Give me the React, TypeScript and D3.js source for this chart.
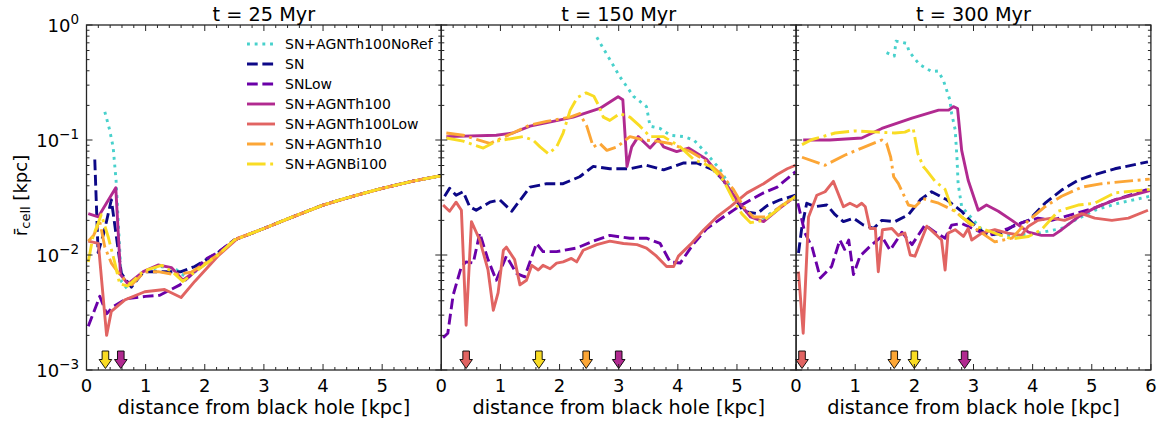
import React from "react";
import * as d3 from "d3";

type P = [number, number];

const SERIES = ["SN+AGNTh100NoRef", "SN", "SNLow", "SN+AGNTh100", "SN+AGNTh100Low", "SN+AGNTh10", "SN+AGNBi100"];
const COLORS = ["#48d1cc", "#0d0887", "#6a00a8", "#b12a90", "#e16462", "#fca636", "#f9dc24"];
const STYLES = ["dotted", "dashed", "dashed", "solid", "solid", "dashdot", "dashdot"];
const TITLES = ["t = 25 Myr", "t = 150 Myr", "t = 300 Myr"];
const X_TICKS = [0, 1, 2, 3, 4, 5, 6];
const Y_TICK_EXP = [0, -1, -2, -3];

// ---------- t = 25 Myr ----------
const tail25: P[] = [[2.5, 0.0135], [3, 0.017], [3.5, 0.0216], [4, 0.0272], [4.5, 0.0324], [5, 0.038], [5.5, 0.0437], [6, 0.049]];
const noRef25: P[] = [[0.31, 0.176], [0.39, 0.123], [0.45, 0.087], [0.5, 0.0447], [0.59, 0.00589], [0.7, 0.00501], [0.96, 0.00708], [1.25, 0.00794], [1.5, 0.00759], [1.7, 0.00631], [1.85, 0.00724], [2.22, 0.0102]];
const sn25: P[] = [[0.14, 0.0676], [0.196, 0.0105], [0.3, 0.016], [0.42, 0.0302], [0.59, 0.00692], [0.76, 0.00525], [0.96, 0.00716], [1.29, 0.00716], [1.6, 0.00716], [1.83, 0.00794], [2.22, 0.0105]];
const snLow25: P[] = [[0.03, 0.0024], [0.225, 0.00437], [0.34, 0.00309], [0.45, 0.00355], [0.68, 0.00417], [1.0, 0.00437], [1.24, 0.00447], [1.58, 0.0055], [1.8, 0.00692], [2.0, 0.00912], [2.22, 0.0105]];
const th100_25: P[] = [[0.03, 0.0229], [0.2, 0.0215], [0.495, 0.0385], [0.575, 0.00676], [0.7, 0.00562], [0.96, 0.00716], [1.21, 0.00818], [1.44, 0.00776], [1.63, 0.00603], [1.83, 0.00716], [2.22, 0.01]];
const low25: P[] = [[0.03, 0.0132], [0.2, 0.0126], [0.34, 0.002], [0.42, 0.00324], [0.65, 0.00407], [0.985, 0.00479], [1.32, 0.00501], [1.6, 0.00427], [1.83, 0.00589], [2.22, 0.00977], [2.56, 0.014]];
const th10_25: P[] = [[0.03, 0.0132], [0.12, 0.0148], [0.225, 0.0195], [0.31, 0.0117], [0.42, 0.00851], [0.59, 0.00646], [0.76, 0.0055], [0.985, 0.00716], [1.21, 0.00716], [1.49, 0.00676], [1.77, 0.00708], [2.22, 0.01]];
const bi100_25: P[] = [[0.03, 0.00871], [0.11, 0.0145], [0.25, 0.0224], [0.365, 0.0145], [0.48, 0.00851], [0.56, 0.00562], [0.7, 0.00537], [0.96, 0.00724], [1.27, 0.00813], [1.46, 0.00708], [1.63, 0.00589], [1.83, 0.00708], [2.22, 0.01]];

// ---------- t = 150 Myr ----------
const noRef150: P[] = [[2.63, 0.782], [2.85, 0.501], [3.02, 0.355], [3.25, 0.24], [3.47, 0.195], [3.53, 0.132], [3.7, 0.126], [3.87, 0.11], [4.1, 0.107], [4.27, 0.1], [4.49, 0.0759], [4.72, 0.055], [4.94, 0.0347], [5.17, 0.0229], [5.4, 0.02], [5.73, 0.0263], [5.99, 0.0331]];
const sn150: P[] = [[0.056, 0.0324], [0.14, 0.038], [0.25, 0.0331], [0.37, 0.0355], [0.48, 0.0263], [0.59, 0.0245], [0.82, 0.0288], [0.99, 0.0302], [1.19, 0.024], [1.5, 0.0389], [1.78, 0.0417], [2.06, 0.0417], [2.34, 0.0479], [2.57, 0.0589], [2.85, 0.0562], [3.19, 0.0562], [3.47, 0.0603], [3.76, 0.055], [4.1, 0.0631], [4.32, 0.0631], [4.6, 0.055], [4.77, 0.0447], [4.94, 0.0324], [5.11, 0.024], [5.34, 0.0229], [5.51, 0.0269], [5.73, 0.0302], [5.99, 0.0331]];
const snLow150: P[] = [[0.03, 0.00191], [0.11, 0.00209], [0.2, 0.00447], [0.34, 0.00794], [0.42, 0.00871], [0.54, 0.00851], [0.65, 0.0155], [0.79, 0.00912], [0.93, 0.00603], [1.1, 0.00977], [1.27, 0.00692], [1.41, 0.00646], [1.61, 0.0126], [1.72, 0.0107], [1.95, 0.0107], [2.29, 0.0115], [2.57, 0.0132], [2.85, 0.0148], [3.19, 0.014], [3.47, 0.014], [3.7, 0.0126], [3.87, 0.00871], [4.04, 0.00851], [4.27, 0.0126], [4.49, 0.017], [4.77, 0.0214], [5.0, 0.0257], [5.23, 0.0302], [5.45, 0.0347], [5.68, 0.0389], [5.99, 0.0531]];
const th100_150: P[] = [[0.085, 0.107], [0.93, 0.11], [1.21, 0.115], [1.5, 0.132], [1.89, 0.145], [2.23, 0.158], [2.68, 0.188], [2.99, 0.238], [3.07, 0.224], [3.14, 0.0589], [3.22, 0.0871], [3.33, 0.107], [3.53, 0.0851], [3.67, 0.102], [3.76, 0.0871], [3.98, 0.0794], [4.18, 0.0851], [4.49, 0.0676], [4.77, 0.0447], [5.0, 0.0302], [5.23, 0.0214], [5.45, 0.0195], [5.73, 0.0257], [5.99, 0.0324]];
const low150: P[] = [[0.03, 0.0272], [0.14, 0.024], [0.25, 0.0288], [0.34, 0.0245], [0.42, 0.00245], [0.51, 0.0195], [0.65, 0.0135], [0.79, 0.00741], [0.88, 0.00331], [0.96, 0.00468], [1.05, 0.011], [1.1, 0.0117], [1.24, 0.00912], [1.33, 0.0055], [1.44, 0.00603], [1.53, 0.00813], [1.64, 0.00741], [1.72, 0.00813], [1.84, 0.00759], [1.95, 0.00851], [2.06, 0.00871], [2.2, 0.00933], [2.29, 0.00871], [2.4, 0.011], [2.63, 0.0123], [2.85, 0.0132], [3.08, 0.0126], [3.31, 0.0123], [3.47, 0.0115], [3.64, 0.00977], [3.81, 0.00794], [3.93, 0.00794], [4.01, 0.00977], [4.21, 0.0123], [4.44, 0.0166], [4.66, 0.0214], [4.89, 0.0263], [5.17, 0.0347], [5.45, 0.0417], [5.68, 0.0501], [5.85, 0.0562], [5.99, 0.0603]];
const th10_150: P[] = [[0.085, 0.115], [0.37, 0.11], [0.82, 0.0933], [1.21, 0.115], [1.5, 0.135], [1.78, 0.145], [2.18, 0.158], [2.34, 0.17], [2.46, 0.132], [2.57, 0.0871], [2.68, 0.0933], [2.8, 0.0813], [2.97, 0.0871], [3.19, 0.107], [3.42, 0.1], [3.64, 0.0977], [3.87, 0.0933], [4.21, 0.0794], [4.44, 0.0676], [4.72, 0.0513], [4.94, 0.0372], [5.11, 0.0263], [5.28, 0.0214], [5.51, 0.0214], [5.73, 0.0263], [5.99, 0.0324]];
const bi100_150: P[] = [[0.085, 0.104], [0.37, 0.0977], [0.71, 0.0851], [0.93, 0.0977], [1.38, 0.107], [1.55, 0.1], [1.67, 0.0871], [1.81, 0.0759], [1.95, 0.0871], [2.06, 0.115], [2.18, 0.182], [2.3, 0.234], [2.45, 0.257], [2.58, 0.24], [2.66, 0.2], [2.74, 0.158], [2.85, 0.148], [3.02, 0.17], [3.19, 0.158], [3.36, 0.132], [3.53, 0.107], [3.76, 0.107], [4.04, 0.0871], [4.27, 0.0676], [4.55, 0.0589], [4.77, 0.0447], [4.94, 0.0302], [5.08, 0.0229], [5.23, 0.0191], [5.45, 0.02], [5.73, 0.0257], [5.99, 0.0324]];

// ---------- t = 300 Myr ----------
const noRef300: P[] = [[1.53, 0.575], [1.66, 0.537], [1.69, 0.724], [1.87, 0.692], [1.91, 0.589], [2.08, 0.457], [2.29, 0.394], [2.4, 0.398], [2.49, 0.331], [2.6, 0.224], [2.63, 0.17], [2.69, 0.123], [2.72, 0.0708], [2.74, 0.0417], [2.8, 0.0263], [2.97, 0.0209], [3.19, 0.0155], [3.41, 0.0148], [3.69, 0.0148], [4.09, 0.0155], [4.49, 0.017], [4.71, 0.02], [5.05, 0.0245], [5.45, 0.0282], [5.98, 0.0324]];
const sn300: P[] = [[0.04, 0.0104], [0.1, 0.0178], [0.18, 0.0282], [0.32, 0.0263], [0.52, 0.0272], [0.66, 0.0224], [0.8, 0.0195], [0.97, 0.0209], [1.14, 0.0182], [1.31, 0.017], [1.45, 0.02], [1.67, 0.0195], [1.9, 0.0224], [2.1, 0.0302], [2.29, 0.0355], [2.55, 0.0302], [2.8, 0.024], [3.03, 0.0178], [3.25, 0.0148], [3.48, 0.0155], [3.7, 0.0182], [3.93, 0.02], [4.21, 0.0282], [4.49, 0.0367], [4.77, 0.0447], [5.05, 0.0501], [5.39, 0.0562], [5.95, 0.0646]];
const snLow300: P[] = [[0.03, 0.0282], [0.15, 0.0155], [0.27, 0.0117], [0.41, 0.00631], [0.6, 0.00794], [0.74, 0.0135], [0.82, 0.0112], [0.89, 0.0135], [0.97, 0.00676], [1.08, 0.00977], [1.28, 0.0123], [1.45, 0.0145], [1.59, 0.011], [1.79, 0.0158], [1.96, 0.0123], [2.18, 0.0182], [2.35, 0.0158], [2.52, 0.014], [2.63, 0.0182], [2.8, 0.0188], [3.03, 0.0166], [3.25, 0.0148], [3.58, 0.017], [3.87, 0.0195], [4.09, 0.0209], [4.32, 0.02], [4.66, 0.0224], [5.05, 0.0257], [5.39, 0.0302], [5.95, 0.0372]];
const th100_300: P[] = [[0.12, 0.1], [0.57, 0.1], [1.11, 0.104], [1.45, 0.126], [1.96, 0.155], [2.41, 0.182], [2.58, 0.182], [2.66, 0.195], [2.73, 0.188], [2.8, 0.0813], [2.91, 0.0447], [3.08, 0.0245], [3.22, 0.0272], [3.42, 0.024], [3.65, 0.02], [3.93, 0.0158], [4.15, 0.0148], [4.35, 0.0148], [4.49, 0.0166], [4.77, 0.0214], [5.05, 0.0257], [5.39, 0.0302], [5.98, 0.0363]];
const low300: P[] = [[0.04, 0.00716], [0.12, 0.00209], [0.21, 0.0214], [0.35, 0.0331], [0.49, 0.0355], [0.63, 0.0437], [0.8, 0.0263], [0.91, 0.0282], [1.03, 0.0263], [1.11, 0.0282], [1.17, 0.0263], [1.25, 0.017], [1.34, 0.017], [1.39, 0.00716], [1.46, 0.0166], [1.62, 0.017], [1.73, 0.0148], [1.84, 0.0155], [1.93, 0.01], [2.01, 0.00977], [2.21, 0.0178], [2.38, 0.0148], [2.46, 0.0135], [2.52, 0.00741], [2.57, 0.0155], [2.69, 0.0166], [2.83, 0.0145], [2.91, 0.017], [2.97, 0.0135], [3.14, 0.0155], [3.36, 0.0166], [3.58, 0.0155], [3.81, 0.0148], [3.93, 0.0178], [4.09, 0.02], [4.32, 0.0209], [4.54, 0.02], [4.83, 0.0229], [5.05, 0.0209], [5.34, 0.02], [5.62, 0.0209], [5.95, 0.0245]];
const th10_300: P[] = [[0.1, 0.0708], [0.49, 0.0603], [0.83, 0.0741], [1.11, 0.0851], [1.45, 0.1], [1.53, 0.0933], [1.6, 0.0708], [1.65, 0.0479], [1.73, 0.0417], [1.9, 0.0272], [2.01, 0.0263], [2.15, 0.0309], [2.41, 0.0282], [2.69, 0.024], [3.03, 0.017], [3.36, 0.013], [3.65, 0.014], [3.93, 0.02], [4.21, 0.0263], [4.49, 0.0324], [4.83, 0.0389], [5.17, 0.0417], [5.56, 0.0437], [5.98, 0.0457]];
const bi100_300: P[] = [[0.1, 0.0912], [0.27, 0.101], [0.66, 0.115], [1.0, 0.12], [1.39, 0.117], [1.67, 0.115], [1.84, 0.117], [1.98, 0.126], [2.06, 0.0759], [2.15, 0.0589], [2.2, 0.055], [2.35, 0.0437], [2.52, 0.0372], [2.63, 0.0257], [2.8, 0.0214], [3.03, 0.0178], [3.36, 0.0155], [3.65, 0.0138], [3.93, 0.0145], [4.15, 0.0166], [4.43, 0.024], [4.77, 0.0272], [5.05, 0.0282], [5.39, 0.0347], [5.98, 0.0372]];

// feedback-radius arrows: [series index, x]
const ARROWS_25: P[] = [[6, 0.32], [3, 0.58]];
const ARROWS_150: P[] = [[4, 0.42], [6, 1.65], [5, 2.45], [3, 3.0]];
const ARROWS_300: P[] = [[4, 0.1], [5, 1.66], [6, 2.0], [3, 2.85]];

const PANELS: { data: P[][]; arrows: P[] }[] = [
  {
    data: [
      noRef25.concat(tail25),
      sn25.concat(tail25),
      snLow25.concat(tail25),
      th100_25.concat(tail25),
      low25.concat(tail25.slice(1)),
      th10_25.concat(tail25),
      bi100_25.concat(tail25),
    ],
    arrows: ARROWS_25,
  },
  { data: [noRef150, sn150, snLow150, th100_150, low150, th10_150, bi100_150], arrows: ARROWS_150 },
  { data: [noRef300, sn300, snLow300, th100_300, low300, th10_300, bi100_300], arrows: ARROWS_300 },
];

const W = 1163;
const H = 421;
const LEFT = 86.5;
const PW = 354.8;
const TOP = 25;
const BOTTOM = 370;
const LW = 2.9;
const FONT = "DejaVu Sans, sans-serif";
const AXIS = "#262626";

function dash(style: string): string | undefined {
  if (style === "dashed") return `${3.7 * LW},${1.6 * LW}`;
  if (style === "dotted") return `${1 * LW},${1.65 * LW}`;
  if (style === "dashdot") return `${6.4 * LW},${1.6 * LW},${1 * LW},${1.6 * LW}`;
  return undefined;
}

const yScale = d3.scaleLog().domain([1e-3, 1]).range([BOTTOM, TOP]);

function Panel({ idx }: { idx: number }) {
  const x0 = LEFT + idx * PW;
  const x = d3.scaleLinear().domain([0, 6]).range([x0, x0 + PW]);
  const line = d3
    .line<P>()
    .x((d) => x(d[0]))
    .y((d) => yScale(d[1]));
  const panel = PANELS[idx];
  const minorX = d3.range(0, 30.5, 1).map((i) => i * 0.2).filter((v) => Math.abs(v - Math.round(v)) > 1e-6);
  const minorY: number[] = [];
  for (let e = -3; e < 0; e++) for (let m = 2; m <= 9; m++) minorY.push(m * Math.pow(10, e));
  const clipId = `clip${idx}`;
  const labelTicks = idx === 2 ? X_TICKS : X_TICKS.slice(0, 6);
  return (
    <g>
      <defs>
        <clipPath id={clipId}>
          <rect x={x0} y={TOP} width={PW} height={BOTTOM - TOP} />
        </clipPath>
      </defs>
      <g clipPath={`url(#${clipId})`}>
        {panel.data.map((d, i) => (
          <path
            key={i}
            d={line(d) || ""}
            fill="none"
            stroke={COLORS[i]}
            strokeWidth={LW}
            strokeDasharray={dash(STYLES[i])}
            strokeLinejoin="round"
          />
        ))}
      </g>
      {panel.arrows.map(([s, ax], i) => {
        const cx = x(ax);
        const t = 351;
        const m = 359.5;
        const b = 368.5;
        const sw = 3.3;
        const hw = 6.3;
        const pts = [
          [cx - sw, t], [cx + sw, t], [cx + sw, m], [cx + hw, m], [cx, b], [cx - hw, m], [cx - sw, m],
        ];
        return (
          <polygon key={i} points={pts.map((p) => p.join(",")).join(" ")} fill={COLORS[s]} stroke="#000" strokeWidth={0.9} />
        );
      })}
      {/* ticks */}
      <g stroke={AXIS} strokeWidth={1}>
        {X_TICKS.map((v) => (
          <g key={"xm" + v}>
            <line x1={x(v)} x2={x(v)} y1={BOTTOM} y2={BOTTOM - 6} />
            <line x1={x(v)} x2={x(v)} y1={TOP} y2={TOP + 6} />
          </g>
        ))}
        {minorX.map((v) => (
          <g key={"xn" + v}>
            <line x1={x(v)} x2={x(v)} y1={BOTTOM} y2={BOTTOM - 3} />
            <line x1={x(v)} x2={x(v)} y1={TOP} y2={TOP + 3} />
          </g>
        ))}
        {Y_TICK_EXP.map((e) => (
          <g key={"ym" + e}>
            <line x1={x0} x2={x0 + 6} y1={yScale(Math.pow(10, e))} y2={yScale(Math.pow(10, e))} />
            <line x1={x0 + PW} x2={x0 + PW - 6} y1={yScale(Math.pow(10, e))} y2={yScale(Math.pow(10, e))} />
          </g>
        ))}
        {minorY.map((v) => (
          <g key={"yn" + v}>
            <line x1={x0} x2={x0 + 3} y1={yScale(v)} y2={yScale(v)} />
            <line x1={x0 + PW} x2={x0 + PW - 3} y1={yScale(v)} y2={yScale(v)} />
          </g>
        ))}
      </g>
      <rect x={x0} y={TOP} width={PW} height={BOTTOM - TOP} fill="none" stroke={AXIS} strokeWidth={1.3} />
      {labelTicks.map((v) => (
        <text key={"xl" + v} x={x(v)} y={391.5} textAnchor="middle" fontSize={18} fontFamily={FONT} fill="#000">
          {v}
        </text>
      ))}
      <text x={x0 + PW / 2} y={20.5} textAnchor="middle" fontSize={19.3} fontFamily={FONT} fill="#000">
        {TITLES[idx]}
      </text>
      <text x={x0 + PW / 2} y={414} textAnchor="middle" fontSize={19.3} fontFamily={FONT} fill="#000">
        distance from black hole [kpc]
      </text>
    </g>
  );
}

export default function App() {
  return (
    <svg
      width={W}
      height={H}
      viewBox={`0 0 ${W} ${H}`}
      style={{ position: "absolute", left: 0, top: 0, display: "block", background: "#fff" }}
    >
      <rect x={0} y={0} width={W} height={H} fill="#fff" />
      {[0, 1, 2].map((i) => (
        <Panel key={i} idx={i} />
      ))}
      {/* y tick labels */}
      {Y_TICK_EXP.map((e) => (
        <text
          key={"yl" + e}
          x={79}
          y={yScale(Math.pow(10, e)) + 6.5}
          textAnchor="end"
          fontSize={18}
          fontFamily={FONT}
          fill="#000"
        >
          10
          <tspan dy={-8} fontSize={13.5}>
            {e === 0 ? "0" : "\u2212" + Math.abs(e)}
          </tspan>
        </text>
      ))}
      <text
        transform={`translate(26.5,${(TOP + BOTTOM) / 2 - 2}) rotate(-90)`}
        textAnchor="middle"
        fontSize={18}
        fontFamily={FONT}
        fill="#000"
      >
        {"r\u0304"}
        <tspan fontSize={13} dy={3.5}>
          cell
        </tspan>
        <tspan dy={-3.5}> [kpc]</tspan>
      </text>
      {/* legend */}
      {SERIES.map((name, i) => {
        const yy = 44 + i * 20;
        return (
          <g key={name}>
            <line x1={247} x2={275} y1={yy} y2={yy} stroke={COLORS[i]} strokeWidth={LW} strokeDasharray={dash(STYLES[i])} />
            <text x={285} y={yy + 5} fontSize={14} fontFamily={FONT} fill="#000">
              {name}
            </text>
          </g>
        );
      })}
    </svg>
  );
}
